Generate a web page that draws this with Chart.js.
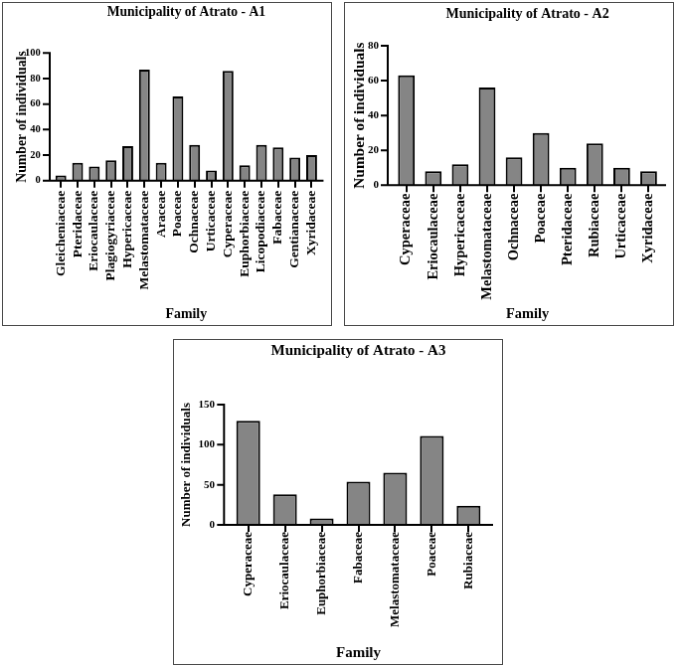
<!DOCTYPE html>
<html>
<head>
<meta charset="utf-8">
<script src="https://cdn.jsdelivr.net/npm/chart.js@4.4.1/dist/chart.umd.min.js"></script>
<style>
  body { margin: 0; background: #fff; }
  canvas { position: absolute; border: 1px solid #4a4a4a; }
</style>
</head>
<body>
<canvas id="a1" width="330" height="324" style="left:2px;top:2px"></canvas>
<canvas id="a2" width="330" height="324" style="left:344px;top:2px"></canvas>
<canvas id="a3" width="330" height="326" style="left:173px;top:339px"></canvas>
<script>
const a1Families = ['Gleicheniaceae', 'Pteridaceae', 'Eriocaulaceae', 'Plagiogyriaceae', 'Hypericaceae',
  'Melastomataceae', 'Araceae', 'Poaceae', 'Ochnaceae', 'Urticaceae', 'Cyperaceae', 'Euphorbiaceae',
  'Licopodiaceae', 'Fabaceae', 'Gentianaceae', 'Xyridaceae'];
const a1Counts = [4, 14, 11, 16, 27, 87, 14, 66, 28, 8, 86, 12, 28, 26, 18, 20];

const a2Families = ['Cyperaceae', 'Eriocaulaceae', 'Hypericaceae', 'Melastomataceae', 'Ochnaceae',
  'Poaceae', 'Pteridaceae', 'Rubiaceae', 'Urticaceae', 'Xyridaceae'];
const a2Counts = [63, 8, 12, 56, 16, 30, 10, 24, 10, 8];

const a3Families = ['Cyperaceae', 'Eriocaulaceae', 'Euphorbiaceae', 'Fabaceae', 'Melastomataceae',
  'Poaceae', 'Rubiaceae'];
const a3Counts = [130, 38, 8, 54, 65, 111, 24];

const serif = '"Liberation Serif", "Times New Roman", serif';

// prism-style axes: y axis sits a little left of the first bar
const prismAxes = {
  id: 'prismAxes',
  afterDraw(chart, args, opts) {
    const { ctx, chartArea } = chart;
    const y = chart.scales.y;
    const x0 = chartArea.left - opts.gapLeft;
    const x1 = chartArea.right + opts.gapRight;
    ctx.save();
    ctx.strokeStyle = '#000';
    ctx.lineWidth = 2;
    ctx.beginPath();
    ctx.moveTo(x0, chartArea.top - 1);
    ctx.lineTo(x0, chartArea.bottom + 1);
    ctx.moveTo(x0 - 1, chartArea.bottom);
    ctx.lineTo(x1, chartArea.bottom);
    y.ticks.forEach(t => {
      const py = y.getPixelForValue(t.value);
      ctx.moveTo(x0 - 7, py);
      ctx.lineTo(x0, py);
    });
    ctx.stroke();
    ctx.restore();
  }
};

function drawPanel(id, title, labels, counts, o) {
  const ctx = document.getElementById(id).getContext('2d');
  return new Chart(ctx, {
    type: 'bar',
    data: {
      labels: labels,
      datasets: [{
        data: counts,
        backgroundColor: '#858585',
        borderColor: '#000',
        borderWidth: 2,
        barPercentage: o.bar,
        categoryPercentage: 1
      }]
    },
    options: {
      responsive: false,
      animation: false,
      devicePixelRatio: 1,
      layout: { padding: { left: 0, right: o.padRight, top: 0, bottom: 0 } },
      scales: {
        x: {
          afterFit: s => { s.height = o.xHeight; },
          grid: { display: true, drawOnChartArea: false, drawTicks: true, tickLength: 7,
            color: '#000', lineWidth: 2, offset: false },
          border: { display: false },
          ticks: { autoSkip: false, minRotation: 90, maxRotation: 90, padding: o.xPad,
            color: '#000', font: { family: serif, weight: 'bold', size: o.xFont } },
          title: { display: true, text: 'Family', color: '#000',
            padding: { top: 0, bottom: o.famPad },
            font: { family: serif, weight: 'bold', size: o.famFont } }
        },
        y: {
          min: 0,
          max: o.yMax,
          afterFit: s => { s.width = o.yWidth; },
          grid: { display: false, drawTicks: false },
          border: { display: false },
          ticks: { stepSize: o.yStep, padding: o.yPad, color: '#000',
            font: { family: serif, weight: 'bold', size: o.yFont } },
          title: { display: true, text: 'Number of individuals', color: '#000',
            padding: { top: o.ytPad, bottom: 0 },
            font: { family: serif, weight: 'bold', size: o.ytFont } }
        }
      },
      plugins: {
        legend: { display: false },
        tooltip: { enabled: false },
        title: {
          display: true,
          text: title,
          fullSize: false,
          color: '#000',
          padding: { top: o.tTop, bottom: o.tBottom },
          font: { family: serif, weight: 'bold', size: o.tFont }
        },
        prismAxes: { gapLeft: o.gapLeft, gapRight: o.gapRight }
      }
    },
    plugins: [prismAxes]
  });
}

drawPanel('a1', 'Municipality of Atrato - A1', a1Families, a1Counts, {
  bar: 0.65, padRight: 10.6, xHeight: 145.3, yWidth: 49.8, gapLeft: 2.8, gapRight: 3.6,
  yMax: 100, yStep: 20, yPad: 12.1, yFont: 10.5, xPad: 3, xFont: 13.5,
  famFont: 13.9, famPad: 2.4, ytFont: 13.8, ytPad: 10.7,
  tFont: 13.6, tTop: 1.7, tBottom: 32.3
});

drawPanel('a2', 'Municipality of Atrato - A2', a2Families, a2Counts, {
  bar: 0.62, padRight: 11, xHeight: 140.7, yWidth: 48.2, gapLeft: 5.2, gapRight: 4,
  yMax: 80, yStep: 20, yPad: 14.2, yFont: 11, xPad: 1.3, xFont: 14.5,
  famFont: 14.4, famPad: 2.3, ytFont: 15.3, ytPad: 5.6,
  tFont: 14, tTop: 3.1, tBottom: 23.1
});

drawPanel('a3', 'Municipality of Atrato - A3', a3Families, a3Counts, {
  bar: 0.65, padRight: 15.2, xHeight: 140, yWidth: 56.2, gapLeft: 5.9, gapRight: 6.2,
  yMax: 150, yStep: 50, yPad: 15.2, yFont: 11, xPad: 0, xFont: 13,
  famFont: 15, famPad: 1.7, ytFont: 13, ytPad: 4.5,
  tFont: 15, tTop: 2.2, tBottom: 44.8
});
</script>
</body>
</html>
